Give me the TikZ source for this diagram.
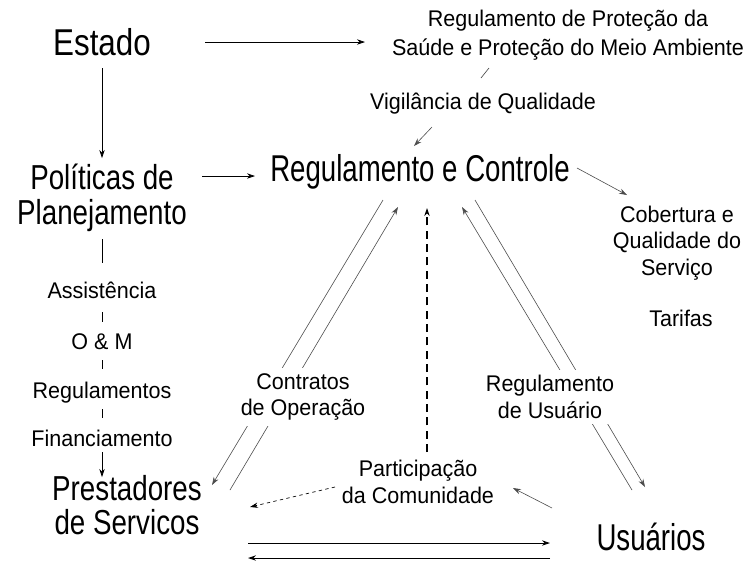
\documentclass[tikz,border=0pt]{standalone}
\usepackage{fontspec}
\setmainfont{Liberation Sans}
\newfontfamily\narrowfont[FakeStretch=0.74]{Liberation Sans}
\newfontfamily\twolinefont[FakeStretch=0.8]{Liberation Sans}
\newfontfamily\estadofont[FakeStretch=0.84]{Liberation Sans}
\newfontfamily\medfont[FakeStretch=0.95]{Liberation Sans}
\usetikzlibrary{arrows.meta}

\tikzset{
  bigtxt/.style={font={\narrowfont\fontsize{28}{28}\selectfont}, align=center, inner sep=1pt},
  bigtwo/.style={bigtxt, font={\twolinefont\fontsize{26}{26}\selectfont}},
  medtxt/.style={font={\medfont\fontsize{17}{20}\selectfont}, align=center, inner sep=1pt},
  link/.style={line width=0.5pt},
  arr/.style={link, -{Stealth[length=6pt,width=4pt]}},
  fine/.style={arr, draw=black!70, line width=0.45pt},
}

\begin{document}
\begin{tikzpicture}[x=0.75pt,y=-0.75pt]
\useasboundingbox (0,0) rectangle (750,562);
% main nodes
\node[bigtxt, font={\estadofont\fontsize{28}{28}\selectfont}] (estado) at (102,42) {Estado};
\node[medtxt, font={\medfont\fontsize{17}{22}\selectfont}] (protecao) at (568,35) {Regulamento de Proteção da\\Saúde e Proteção do Meio Ambiente};
\node[medtxt] (vigil) at (483,104) {Vigilância de Qualidade};
\node[bigtxt] (regctrl) at (420,172) {Regulamento e Controle};
\node[bigtwo] (politicas) at (102,198) {Políticas de\\Planejamento};
\node[medtxt] (cobertura) at (677,243) {Cobertura e\\Qualidade do\\Serviço};
\node[medtxt] (tarifas) at (681,318) {Tarifas};
% left column
\node[medtxt] (assist) at (102,290) {Assistência};
\node[medtxt] (om) at (102,342) {O \& M};
\node[medtxt] (regul) at (102,393) {Regulamentos};
\node[medtxt] (financ) at (102,438) {Financiamento};
\node[bigtwo] (prestad) at (127,505) {Prestadores\\de Servicos};
\node[bigtxt] (usuarios) at (651,537) {Usuários};
\node[medtxt] (particip) at (418,482) {Participação\\da Comunidade};

% top part
\draw[arr] ([shift={(103,0)}]estado.center) -- ([shift={(-203,7)}]protecao.center);
\draw[arr] ([shift={(0,26)}]estado.center) -- ([shift={(0,-40)}]politicas.center);
\draw[arr] ([shift={(100,-22)}]politicas.center) -- ([shift={(-165,4)}]regctrl.center);
\draw[link, draw=black!70] ([shift={(-79,33)}]protecao.center) -- ([shift={(-2,-26)}]vigil.center);
\draw[fine] ([shift={(-51,23)}]vigil.center) -- ([shift={(-6,-26)}]regctrl.center);
\draw[fine] ([shift={(157,-4)}]regctrl.center) -- ([shift={(-50,-48)}]cobertura.center);

% left column
\draw[link] ([shift={(0,41)}]politicas.center) -- ([shift={(0,-27)}]assist.center);
\draw[link] ([shift={(0,22)}]assist.center) -- ([shift={(0,-20)}]om.center);
\draw[link] ([shift={(0,18)}]om.center) -- ([shift={(0,-24)}]regul.center);
\draw[link] ([shift={(0,16)}]regul.center) -- ([shift={(0,-20)}]financ.center);
\draw[arr] ([shift={(0,14)}]financ.center) -- ([shift={(-25,-28)}]prestad.center);

% contratos
\draw[fine] ([shift={(-37,28)}]regctrl.center) -- ([shift={(85,-20)}]prestad.center);
\draw[fine] ([shift={(103,-15)}]prestad.center) -- ([shift={(-22,35)}]regctrl.center);
% participacao
\draw[arr, line width=0.8pt, dash pattern=on 6pt off 4pt] ([shift={(9,-30)}]particip.center) -- ([shift={(7,36)}]regctrl.center);
\draw[arr, dash pattern=on 2.5pt off 2.5pt] ([shift={(-83,5)}]particip.center) -- ([shift={(123,2)}]prestad.center);
\draw[fine] ([shift={(-99,-29)}]usuarios.center) -- ([shift={(95,6)}]particip.center);
% usuarios
\draw[fine] ([shift={(55,28)}]regctrl.center) -- ([shift={(-6,-50)}]usuarios.center);
\draw[fine] ([shift={(-19,-47)}]usuarios.center) -- ([shift={(42,35)}]regctrl.center);
\draw[arr, line width=0.7pt] ([shift={(121,38)}]prestad.center) -- ([shift={(-101,6)}]usuarios.center);
\draw[arr, line width=0.7pt] ([shift={(-101,21)}]usuarios.center) -- ([shift={(121,53)}]prestad.center);

% labels on the pairs
\node[medtxt, fill=white, inner sep=4pt] (contratos) at (303,397) {Contratos\\de Operação};
\node[medtxt, fill=white, inner sep=4pt] (regusu) at (550,397) {Regulamento\\de Usuário};
\end{tikzpicture}
\end{document}
